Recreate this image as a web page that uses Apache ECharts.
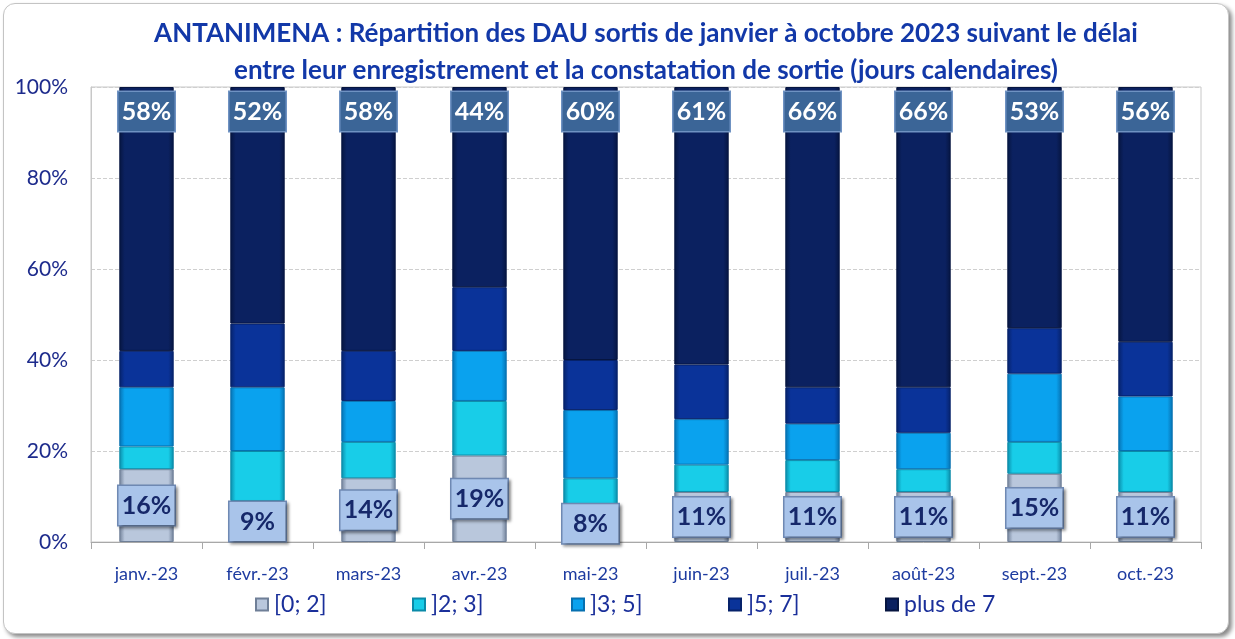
<!DOCTYPE html>
<html>
<head>
<meta charset="utf-8">
<script src="https://cdn.jsdelivr.net/npm/echarts@6/dist/echarts.min.js"></script>
<style>
html, body { margin: 0; padding: 0; background: #fff; }
#chart {
  position: absolute;
  left: 3px;
  top: 3px;
  width: 1224px;
  height: 629px;
  border: 1px solid #c4c4c4;
  border-radius: 12px;
  box-shadow: 3px 3px 4px #8a8a8a;
  background: #fff;
  overflow: hidden;
}
</style>
</head>
<body>
<div id="chart"></div>
<script>
// mois
const months = ['janv.-23', 'févr.-23', 'mars-23', 'avr.-23', 'mai-23', 'juin-23', 'juil.-23', 'août-23', 'sept.-23', 'oct.-23']
// répartition en % par délai (jours calendaires)
const d0to2 = [16, 9, 14, 19, 8, 11, 11, 11, 15, 11]
const d2to3 = [5, 11, 8, 12, 6, 6, 7, 5, 7, 9]
const d3to5 = [13, 14, 9, 11, 15, 10, 8, 8, 15, 12]
const d5to7 = [8, 14, 11, 14, 11, 12, 8, 10, 10, 12]
const plus7 = [58, 52, 58, 44, 60, 61, 66, 66, 53, 56]
const seriesNames = ['[0; 2]', ']2; 3]', ']3; 5]', ']5; 7]', 'plus de 7']
const yTicks = [0, 20, 40, 60, 80, 100]

const chart = echarts.init(document.getElementById('chart'))

const font = 'Lato, "Open Sans", sans-serif'
const colors = ['#b9c7dc', '#18cde8', '#0aa2ee', '#0a3399', '#0b2160']
const borders = ['#6f7f97', '#0a8aa8', '#0670b0', '#06226a', '#061540']

function grad (c, b) {
  return new echarts.graphic.LinearGradient(0, 0, 1, 0, [
    { offset: 0, color: b },
    { offset: 0.1, color: c },
    { offset: 0.9, color: c },
    { offset: 1, color: b }
  ])
}

const dataSets = [d0to2, d2to3, d3to5, d5to7, plus7]

const series = dataSets.map((vals, i) => {
  const s = {
    name: seriesNames[i],
    type: 'bar',
    stack: 'total',
    barWidth: '49%',
    data: vals,
    itemStyle: {
      color: grad(colors[i], borders[i]),
      borderColor: borders[i],
      borderWidth: 1
    }
  }
  if (i === 0) {
    s.label = {
      show: true,
      position: 'inside',
      formatter: p => p.value + '%',
      fontFamily: font,
      fontWeight: 'bold',
      fontSize: 25,
      color: '#16286a',
      backgroundColor: '#a9c4ea',
      borderColor: '#6f89b3',
      borderWidth: 1.5,
      width: 56,
      height: 39,
      lineHeight: 39,
      align: 'center',
      shadowColor: 'rgba(0,0,0,0.35)',
      shadowBlur: 3,
      shadowOffsetX: 2,
      shadowOffsetY: 2
    }
  }
  if (i === 4) {
    s.label = {
      show: true,
      position: 'insideTop',
      distance: 5,
      formatter: p => p.value + '%',
      fontFamily: font,
      fontWeight: 'bold',
      fontSize: 25,
      color: '#ffffff',
      backgroundColor: '#3b6597',
      borderColor: '#6f92c2',
      borderWidth: 1.5,
      width: 56,
      height: 39,
      lineHeight: 39,
      align: 'center'
    }
  }
  return s
})

// one legend per item so the entries sit at even spacing
const legendLeft = [246, 403, 562, 719, 876]
const legends = seriesNames.map((name, i) => ({
  data: [name],
  left: legendLeft[i],
  bottom: 12,
  itemWidth: 12,
  itemHeight: 12,
  icon: 'rect',
  textStyle: {
    fontFamily: font,
    fontSize: 23,
    color: '#1a2f9a',
    padding: [0, 0, 0, 1]
  }
}))

const option = {
  animation: false,
  title: {
    text: 'ANTANIMENA : Répartition des DAU sortis de janvier à octobre 2023 suivant le délai\nentre leur enregistrement et la constatation de sortie (jours calendaires)',
    left: 637,
    textAlign: 'center',
    top: 6,
    textStyle: {
      fontFamily: font,
      fontWeight: 'bold',
      fontSize: 26,
      lineHeight: 37,
      color: '#1238a8'
    }
  },
  legend: legends,
  grid: {
    left: 87,
    right: 27,
    top: 83,
    bottom: 91,
    show: true,
    borderColor: '#c8c8c8',
    borderWidth: 1
  },
  xAxis: {
    type: 'category',
    data: months,
    axisLine: { lineStyle: { color: '#a8a8a8' } },
    axisTick: { show: true, length: 7, lineStyle: { color: '#a8a8a8' } },
    axisLabel: {
      fontFamily: font,
      fontSize: 18,
      color: '#1d3ba0',
      margin: 23
    }
  },
  yAxis: {
    type: 'value',
    min: yTicks[0],
    max: yTicks[yTicks.length - 1],
    interval: 20,
    axisLine: { show: true, lineStyle: { color: '#c8c8c8' } },
    axisTick: { show: false },
    axisLabel: {
      fontFamily: font,
      fontSize: 21,
      color: '#1d2b8c',
      margin: 23,
      formatter: v => v + '%'
    },
    splitLine: { lineStyle: { color: '#cfcfcf', type: 'dashed' } }
  },
  color: colors,
  series: series
}

chart.setOption(option)
</script>
</body>
</html>
